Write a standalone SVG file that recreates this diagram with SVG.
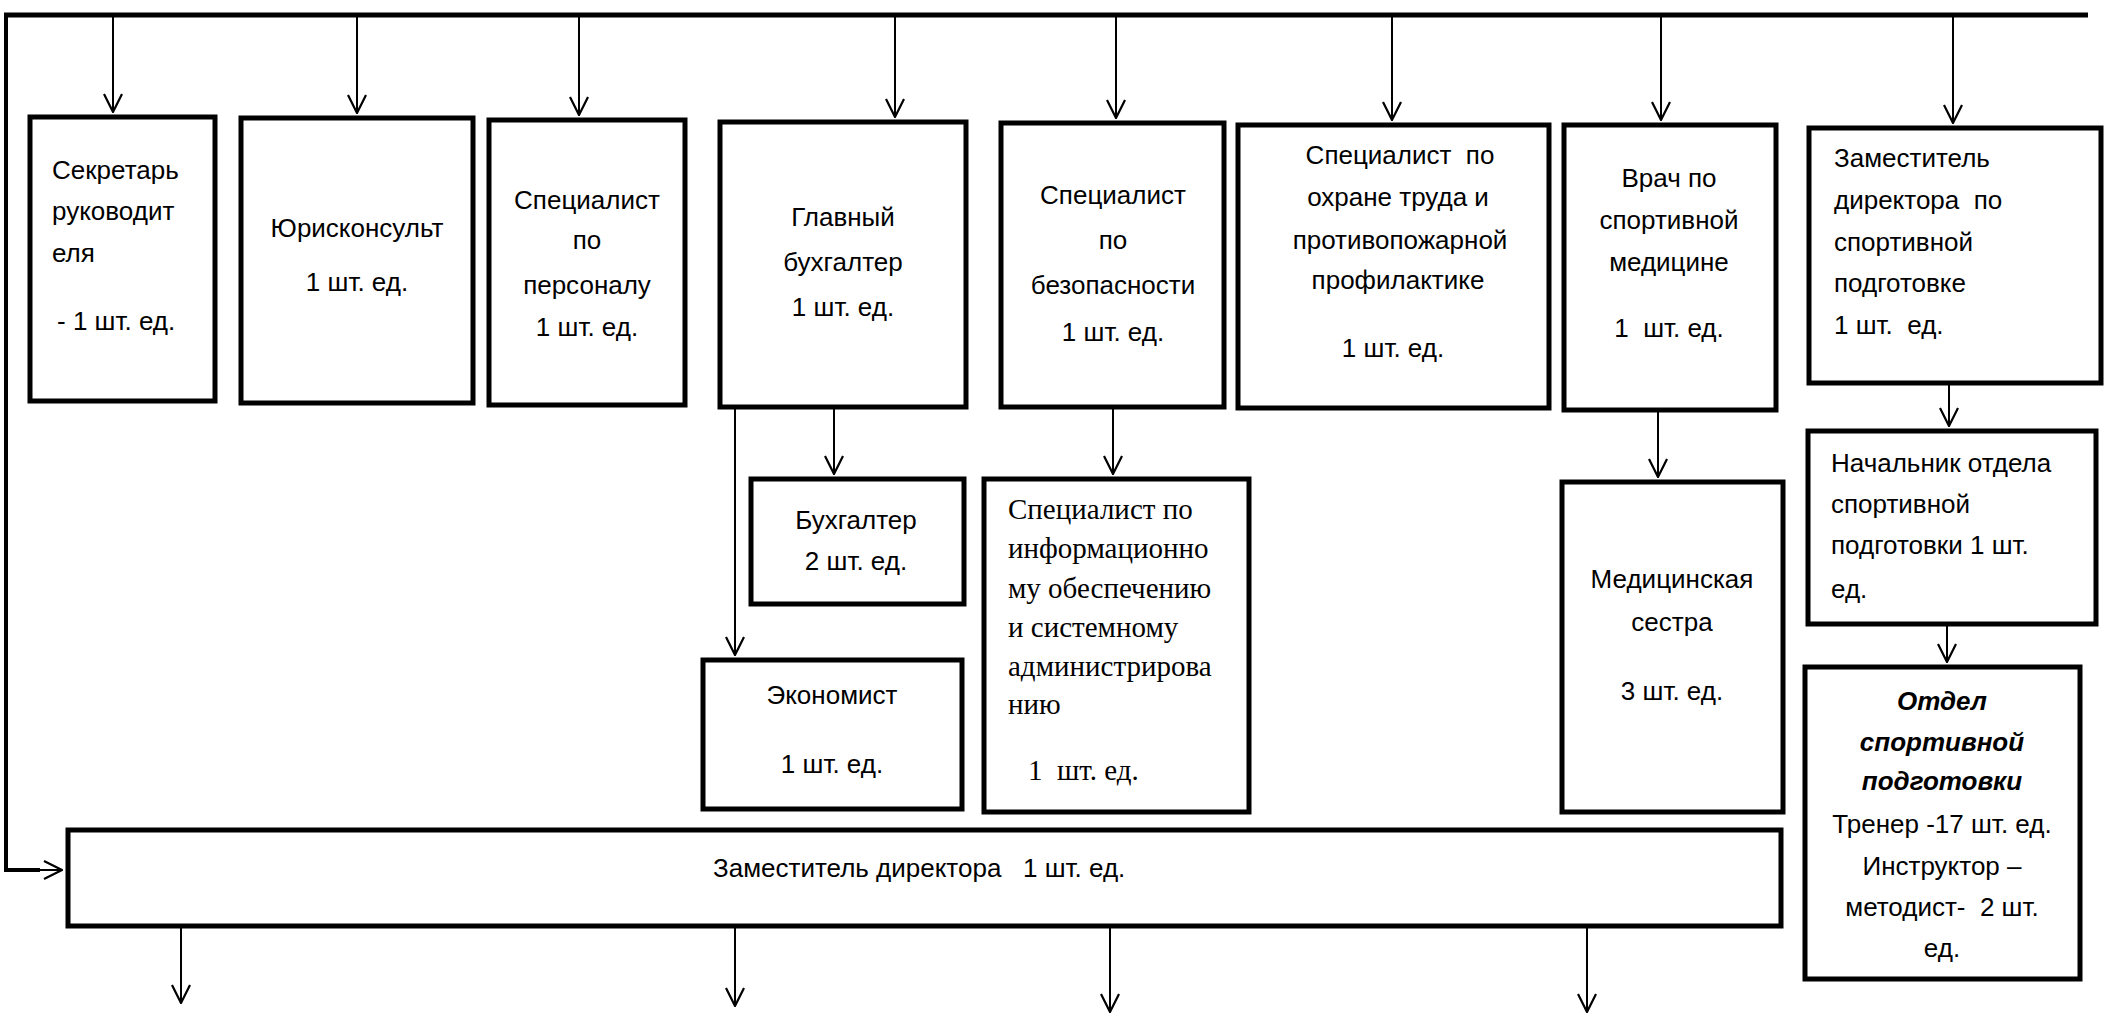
<svg xmlns="http://www.w3.org/2000/svg" width="2109" height="1016" viewBox="0 0 2109 1016">
<defs>
<style>
.box{fill:#fff;stroke:#000;stroke-width:5}
.t{font-family:"Liberation Sans",Arial,sans-serif;font-size:26px;fill:#000;white-space:pre}
.c{text-anchor:middle}
.s{font-family:"Liberation Serif","Times New Roman",serif;font-size:29px;fill:#000;white-space:pre}
.bi{font-weight:bold;font-style:italic}
.ln{fill:none;stroke:#000;stroke-width:2}
.thick{fill:none;stroke:#000;stroke-width:5}
</style>
<marker id="ah" viewBox="0 0 20 20" refX="19" refY="10" markerWidth="20" markerHeight="20" markerUnits="userSpaceOnUse" orient="auto">
<path d="M1,1 L19,10 L1,19" fill="none" stroke="#000" stroke-width="2.2"/>
</marker>
</defs>
<rect width="2109" height="1016" fill="#fff"/>

<g id="connectors">
<path class="thick" d="M4,15 H2088"/>
<path class="ln" style="stroke-width:4" d="M6,13 V870 H40"/>
<path class="ln" d="M38,870 H62" marker-end="url(#ah)"/>
<path class="ln" d="M113,15 V112" marker-end="url(#ah)"/>
<path class="ln" d="M357,15 V113" marker-end="url(#ah)"/>
<path class="ln" d="M579,15 V115" marker-end="url(#ah)"/>
<path class="ln" d="M895,15 V117" marker-end="url(#ah)"/>
<path class="ln" d="M1116,15 V118" marker-end="url(#ah)"/>
<path class="ln" d="M1392,15 V120" marker-end="url(#ah)"/>
<path class="ln" d="M1661,15 V120" marker-end="url(#ah)"/>
<path class="ln" d="M1953,15 V123" marker-end="url(#ah)"/>
<path class="ln" d="M735,407 V655" marker-end="url(#ah)"/>
<path class="ln" d="M834,407 V474" marker-end="url(#ah)"/>
<path class="ln" d="M1113,407 V474" marker-end="url(#ah)"/>
<path class="ln" d="M1658,410 V477" marker-end="url(#ah)"/>
<path class="ln" d="M1949,383 V426" marker-end="url(#ah)"/>
<path class="ln" d="M1947,624 V662" marker-end="url(#ah)"/>
<path class="ln" d="M181,926 V1003" marker-end="url(#ah)"/>
<path class="ln" d="M735,926 V1006" marker-end="url(#ah)"/>
<path class="ln" d="M1110,928 V1012" marker-end="url(#ah)"/>
<path class="ln" d="M1587,928 V1012" marker-end="url(#ah)"/>
</g>

<g id="n1">
<rect class="box" x="30" y="117" width="185" height="284"/>
<text class="t" x="52" y="179">Секретарь</text>
<text class="t" x="52" y="220">руководит</text>
<text class="t" x="52" y="262">еля</text>
<text class="t" x="57" y="330">- 1 шт. ед.</text>
</g>

<g id="n2">
<rect class="box" x="241" y="118" width="232" height="285"/>
<text class="t c" x="357" y="237">Юрисконсульт</text>
<text class="t c" x="357" y="291">1 шт. ед.</text>
</g>

<g id="n3">
<rect class="box" x="489" y="120" width="196" height="285"/>
<text class="t c" x="587" y="209">Специалист</text>
<text class="t c" x="587" y="249">по</text>
<text class="t c" x="587" y="294">персоналу</text>
<text class="t c" x="587" y="336">1 шт. ед.</text>
</g>

<g id="n4">
<rect class="box" x="720" y="122" width="246" height="285"/>
<text class="t c" x="843" y="226">Главный</text>
<text class="t c" x="843" y="271">бухгалтер</text>
<text class="t c" x="843" y="316">1 шт. ед.</text>
</g>

<g id="n5">
<rect class="box" x="1001" y="123" width="223" height="284"/>
<text class="t c" x="1113" y="204">Специалист</text>
<text class="t c" x="1113" y="249">по</text>
<text class="t c" x="1113" y="294">безопасности</text>
<text class="t c" x="1113" y="341">1 шт. ед.</text>
</g>

<g id="n6">
<rect class="box" x="1238" y="125" width="311" height="283"/>
<text class="t c" x="1400" y="164">Специалист  по</text>
<text class="t c" x="1398" y="206">охране труда и</text>
<text class="t c" x="1400" y="249">противопожарной</text>
<text class="t c" x="1398" y="289">профилактике</text>
<text class="t c" x="1393" y="357">1 шт. ед.</text>
</g>

<g id="n7">
<rect class="box" x="1564" y="125" width="212" height="285"/>
<text class="t c" x="1669" y="187">Врач по</text>
<text class="t c" x="1669" y="229">спортивной</text>
<text class="t c" x="1669" y="271">медицине</text>
<text class="t c" x="1669" y="337">1  шт. ед.</text>
</g>

<g id="n8">
<rect class="box" x="1809" y="128" width="292" height="255"/>
<text class="t" x="1834" y="167">Заместитель</text>
<text class="t" x="1834" y="209">директора  по</text>
<text class="t" x="1834" y="251">спортивной</text>
<text class="t" x="1834" y="292">подготовке</text>
<text class="t" x="1834" y="334">1 шт.  ед.</text>
</g>

<g id="n9">
<rect class="box" x="751" y="479" width="213" height="125"/>
<text class="t c" x="856" y="529">Бухгалтер</text>
<text class="t c" x="856" y="570">2 шт. ед.</text>
</g>

<g id="n10">
<rect class="box" x="703" y="660" width="259" height="149"/>
<text class="t c" x="832" y="704">Экономист</text>
<text class="t c" x="832" y="773">1 шт. ед.</text>
</g>

<g id="n11">
<rect class="box" x="984" y="479" width="265" height="333"/>
<text class="s" x="1008" y="519">Специалист по</text>
<text class="s" x="1008" y="558">информационно</text>
<text class="s" x="1008" y="598">му обеспечению</text>
<text class="s" x="1008" y="637">и системному</text>
<text class="s" x="1008" y="676">администрирова</text>
<text class="s" x="1008" y="714">нию</text>
<text class="s" x="1028" y="780">1  шт. ед.</text>
</g>

<g id="n12">
<rect class="box" x="1562" y="482" width="221" height="330"/>
<text class="t c" x="1672" y="588">Медицинская</text>
<text class="t c" x="1672" y="631">сестра</text>
<text class="t c" x="1672" y="700">3 шт. ед.</text>
</g>

<g id="n13">
<rect class="box" x="1808" y="431" width="288" height="193"/>
<text class="t" x="1831" y="472">Начальник отдела</text>
<text class="t" x="1831" y="513">спортивной</text>
<text class="t" x="1831" y="554">подготовки 1 шт.</text>
<text class="t" x="1831" y="598">ед.</text>
</g>

<g id="n14">
<rect class="box" x="1805" y="667" width="275" height="312"/>
<text class="t c bi" x="1942" y="710">Отдел</text>
<text class="t c bi" x="1942" y="751">спортивной</text>
<text class="t c bi" x="1942" y="790">подготовки</text>
<text class="t c" x="1942" y="833">Тренер -17 шт. ед.</text>
<text class="t c" x="1942" y="875">Инструктор –</text>
<text class="t c" x="1942" y="916">методист-  2 шт.</text>
<text class="t c" x="1942" y="957">ед.</text>
</g>

<g id="n15">
<rect class="box" x="68" y="830" width="1713" height="96"/>
<text class="t" x="713" y="877">Заместитель директора   1 шт. ед.</text>
</g>
</svg>
